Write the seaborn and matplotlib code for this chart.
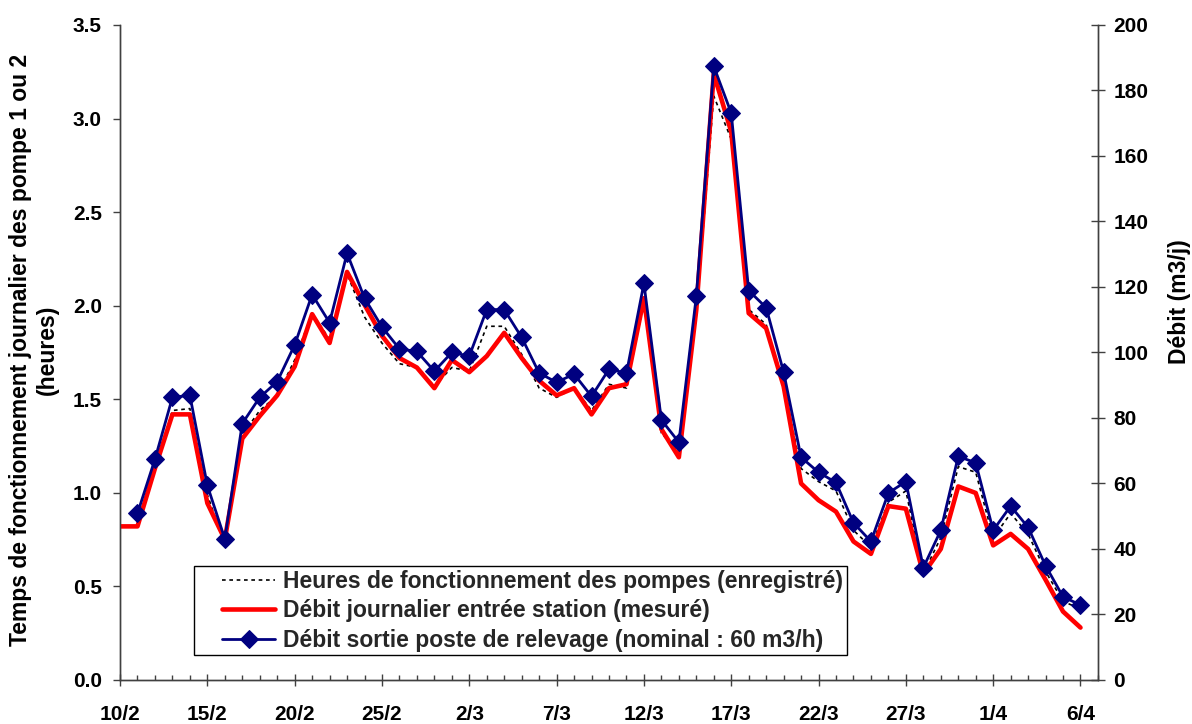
import numpy as np
import pandas as pd
import matplotlib
matplotlib.use("Agg")
import matplotlib.pyplot as plt
from matplotlib import font_manager as fm
from matplotlib.legend_handler import HandlerLine2D
from matplotlib.ticker import MultipleLocator, FixedLocator, FormatStrFormatter
import seaborn as sns

# ---------------- data (daily, 10/2 -> 6/4) ----------------
tick_labels = ["10/2", "15/2", "20/2", "25/2", "2/3", "7/3", "12/3",
               "17/3", "22/3", "27/3", "1/4", "6/4"]
day_index = list(range(56))  # day 0 = 10/2, day 55 = 6/4

# Heures de fonctionnement des pompes (h/j) - left axis
heures = [np.nan, 0.85, 1.12, 1.44, 1.45, 0.99, 0.72, 1.31, 1.44, 1.52,
          1.71, 1.96, 1.82, 2.17, 1.94, 1.80, 1.69, 1.67, 1.57, 1.67,
          1.65, 1.89, 1.89, 1.74, 1.56, 1.51, 1.56, 1.44, 1.58, 1.56,
          2.02, 1.32, 1.21, 1.95, 3.12, 2.89, 1.98, 1.90, 1.57, 1.13,
          1.06, 1.01, 0.80, 0.71, 0.95, 1.01, 0.57, 0.76, 1.14, 1.11,
          0.76, 0.89, 0.78, 0.58, 0.42, 0.38]

# Débit journalier entrée station (m3/j) - right axis
debit_entree = [46.9, 46.9, 64.6, 81.1, 81.1, 54.0, 42.9, 73.7, 80.6, 86.9,
                95.7, 111.7, 102.9, 124.6, 114.6, 105.1, 98.3, 95.4, 89.1, 97.7,
                94.0, 98.9, 106.0, 98.3, 91.4, 86.9, 89.1, 81.1, 89.1, 90.3,
                116.6, 76.6, 68.0, 113.1, 185.1, 167.4, 112.0, 107.4, 89.7, 60.0,
                54.9, 51.4, 42.3, 38.5, 53.1, 52.3, 32.4, 40.0, 59.1, 57.1,
                41.1, 44.6, 40.0, 30.6, 20.9, 16.0]

# Débit sortie poste de relevage (m3/j) - right axis
debit_sortie = [np.nan, 50.9, 67.4, 86.3, 86.9, 59.4, 43.1, 78.3, 86.3, 91.1,
                102.3, 117.7, 109.1, 130.3, 116.6, 107.8, 101.1, 100.3, 94.3, 100.0,
                98.9, 113.1, 113.1, 104.6, 93.7, 90.9, 93.4, 86.6, 94.9, 93.7,
                121.1, 79.4, 72.6, 117.1, 187.4, 173.1, 118.9, 113.7, 94.0, 68.0,
                63.4, 60.3, 48.0, 42.3, 57.1, 60.6, 34.3, 45.7, 68.3, 66.3,
                45.7, 53.1, 46.6, 34.9, 25.4, 22.9]

series_labels = ["Heures de fonctionnement des pompes (enregistré)",
                 "Débit journalier entrée station (mesuré)",
                 "Débit sortie poste de relevage (nominal : 60 m3/h)"]
ylabel_left = "Temps de fonctionnement journalier des pompe 1 ou 2\n(heures)"
ylabel_right = "Débit (m3/j)"

# ---------------- style ----------------
sns.set_theme(style="white")
plt.rcParams["font.family"] = ["Liberation Sans", "DejaVu Sans"]
plt.rcParams["font.weight"] = "bold"

available = {f.name for f in fm.fontManager.ttflist}
narrow = "Liberation Sans Narrow" if "Liberation Sans Narrow" in available else "Liberation Sans"
label_size = 14 if narrow == "Liberation Sans Narrow" else 16.5
label_fp = fm.FontProperties(family=[narrow, "DejaVu Sans"], weight="bold", size=label_size)

spine_col = "#404040"


class ShiftedLineHandler(HandlerLine2D):
    """Legend handle whose line starts a bit to the right of the box edge."""
    def __init__(self, shift, **kw):
        super().__init__(**kw)
        self.shift = shift

    def create_artists(self, legend, orig_handle, xdescent, ydescent,
                       width, height, fontsize, trans):
        s = self.shift * fontsize
        return super().create_artists(legend, orig_handle, xdescent - s,
                                      ydescent, width - s, height,
                                      fontsize, trans)


df = pd.DataFrame({"jour": day_index, "heures": heures,
                   "entree": debit_entree, "sortie": debit_sortie})

fig = plt.figure(figsize=(11.92, 7.24), dpi=100)
ax = fig.add_axes([0.1007, 0.0608, 0.8204, 0.9047])
ax2 = ax.twinx()

sns.lineplot(data=df, x="jour", y="heures", ax=ax, color="black", lw=1.2,
             linestyle=(0, (2.2, 2.2)), legend=False)
sns.lineplot(data=df, x="jour", y="entree", ax=ax2, color="#ff0000", lw=3.3,
             legend=False)
sns.lineplot(data=df, x="jour", y="sortie", ax=ax2, color="#000080", lw=2.0,
             marker="D", markersize=9, markeredgecolor="#000080",
             markerfacecolor="#000080", legend=False)

ax.set_xlim(0, 56)
ax.set_ylim(0, 3.5)
ax2.set_ylim(0, 200)

ax.xaxis.set_major_locator(FixedLocator(list(range(0, 56, 5))))
ax.set_xticklabels(tick_labels)
ax.xaxis.set_minor_locator(MultipleLocator(1))
ax.yaxis.set_major_locator(MultipleLocator(0.5))
ax.yaxis.set_major_formatter(FormatStrFormatter("%.1f"))
ax2.yaxis.set_major_locator(MultipleLocator(20))

for a in (ax, ax2):
    a.spines["top"].set_visible(False)
    for s in ("left", "right", "bottom"):
        a.spines[s].set_color(spine_col)
        a.spines[s].set_linewidth(1.0)
    a.set_xlabel("")

ax.tick_params(axis="y", left=True, direction="out", length=5, width=1,
               color=spine_col, pad=8, labelsize=15)
ax.tick_params(axis="x", which="major", bottom=True, direction="inout",
               length=8, width=1, color=spine_col, pad=14, labelsize=15)
ax.tick_params(axis="x", which="minor", bottom=True, direction="in",
               length=3.6, width=1, color=spine_col)
ax2.tick_params(axis="y", right=True, direction="inout", length=10, width=1,
                color=spine_col, pad=6, labelsize=15)

for lbl in ax.get_xticklabels() + ax.get_yticklabels() + ax2.get_yticklabels():
    lbl.set_fontweight("bold")
    lbl.set_color("black")

ax.set_ylabel(ylabel_left, fontproperties=label_fp, color="black",
              linespacing=1.2)
ax.yaxis.set_label_coords(-0.063, 0.504)
ax2.set_ylabel(ylabel_right, fontproperties=label_fp, color="black")
ax2.yaxis.set_label_coords(1.072, 0.577)

handles = [ax.lines[0], ax2.lines[0], ax2.lines[1]]
hmap = {h: ShiftedLineHandler(1.07) for h in handles}
leg = ax2.legend(handles, series_labels, loc="lower left",
                 bbox_to_anchor=(0.0757, 0.038), prop=label_fp,
                 frameon=True, fancybox=False, framealpha=1,
                 edgecolor="black", handlelength=3.39, handletextpad=0.35,
                 borderpad=0.15, labelspacing=0.28, borderaxespad=0,
                 numpoints=1, handler_map=hmap)
leg.get_frame().set_linewidth(1.0)

fig.savefig("out.png", dpi=100, facecolor="white")
